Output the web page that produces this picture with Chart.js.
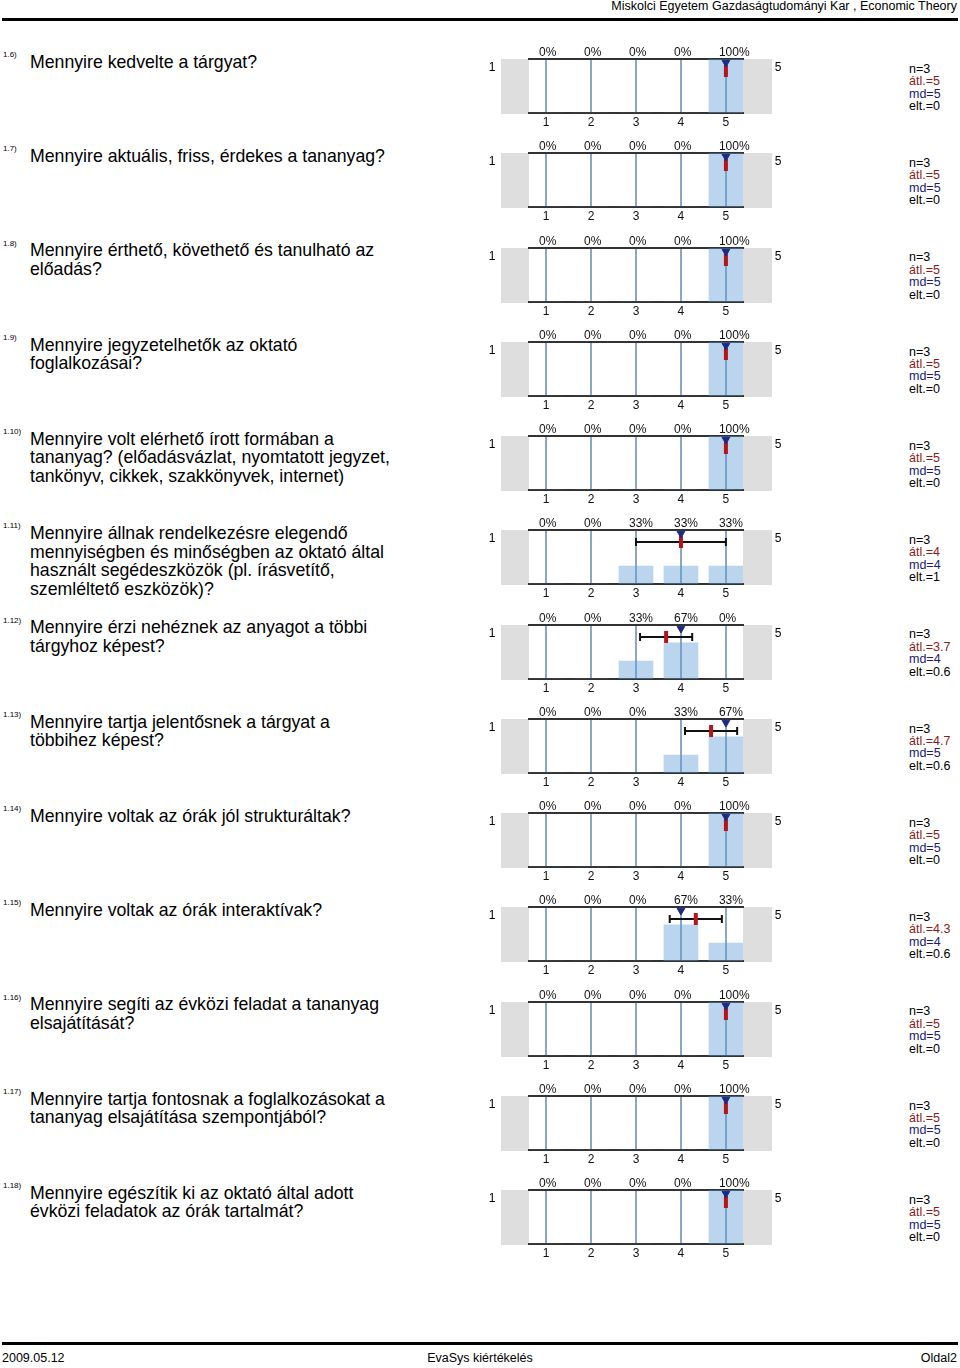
<!DOCTYPE html>
<html>
<head>
<meta charset="utf-8">
<script src="https://cdn.jsdelivr.net/npm/chart.js@4.4.1/dist/chart.umd.min.js"></script>
<style>
body { margin: 0; background: #fff; font-family: "Liberation Sans", Arial, sans-serif; color: #000; }
#page { position: relative; width: 960px; height: 1368px; overflow: hidden; }
.abs { position: absolute; white-space: nowrap; }
.small { font-size: 12.5px; line-height: 14px; }
.rule { position: absolute; left: 2px; width: 956px; height: 3px; background: #000; }
.qid { font-size: 8px; line-height: 9px; }
.q { font-size: 17.7px; line-height: 18.5px; }
.st { font-size: 12.5px; line-height: 12.4px; }
canvas { position: absolute; }
</style>
</head>
<body>
<div id="page"></div>
<script>
// question ids and texts (line breaks as in the report)
const questionIds = ['1.6)', '1.7)', '1.8)', '1.9)', '1.10)', '1.11)', '1.12)', '1.13)', '1.14)', '1.15)', '1.16)', '1.17)', '1.18)'];
const questions = [
    ['Mennyire kedvelte a tárgyat?'],
    ['Mennyire aktuális, friss, érdekes a tananyag?'],
    ['Mennyire érthető, követhető és tanulható az', 'előadás?'],
    ['Mennyire jegyzetelhetők az oktató', 'foglalkozásai?'],
    ['Mennyire volt elérhető írott formában a', 'tananyag? (előadásvázlat, nyomtatott jegyzet,', 'tankönyv, cikkek, szakkönyvek, internet)'],
    ['Mennyire állnak rendelkezésre elegendő', 'mennyiségben és minőségben az oktató által', 'használt segédeszközök (pl. írásvetítő,', 'szemléltető eszközök)?'],
    ['Mennyire érzi nehéznek az anyagot a többi', 'tárgyhoz képest?'],
    ['Mennyire tartja jelentősnek a tárgyat a', 'többihez képest?'],
    ['Mennyire voltak az órák jól strukturáltak?'],
    ['Mennyire voltak az órák interaktívak?'],
    ['Mennyire segíti az évközi feladat a tananyag', 'elsajátítását?'],
    ['Mennyire tartja fontosnak a foglalkozásokat a', 'tananyag elsajátítása szempontjából?'],
    ['Mennyire egészítik ki az oktató által adott', 'évközi feladatok az órák tartalmát?']
];

// answer distribution in percent for scale values 1..5
const pctData = [
    [0, 0, 0, 0, 100],
    [0, 0, 0, 0, 100],
    [0, 0, 0, 0, 100],
    [0, 0, 0, 0, 100],
    [0, 0, 0, 0, 100],
    [0, 0, 33, 33, 33],
    [0, 0, 33, 67, 0],
    [0, 0, 0, 33, 67],
    [0, 0, 0, 0, 100],
    [0, 0, 0, 67, 33],
    [0, 0, 0, 0, 100],
    [0, 0, 0, 0, 100],
    [0, 0, 0, 0, 100]
];
const counts  = [3, 3, 3, 3, 3, 3, 3, 3, 3, 3, 3, 3, 3];
const means   = [5, 5, 5, 5, 5, 4, 3.67, 4.67, 5, 4.33, 5, 5, 5];
const medians = [5, 5, 5, 5, 5, 4, 4, 5, 5, 4, 5, 5, 5];
const stdDevs = [0, 0, 0, 0, 0, 1, 0.58, 0.58, 0, 0.58, 0, 0, 0];
const meanLabels = ['5', '5', '5', '5', '5', '4', '3.7', '4.7', '5', '4.3', '5', '5', '5'];
const sdLabels   = ['0', '0', '0', '0', '0', '1', '0.6', '0.6', '0', '0.6', '0', '0', '0'];

const scaleTicks = [1, 2, 3, 4, 5];
const scaleEnds = ['1', '5'];

const headerText = 'Miskolci Egyetem Gazdaságtudományi Kar , Economic Theory';
const footerLeft = '2009.05.12';
const footerMid = 'EvaSys kiértékelés';
const footerRight = 'Oldal2';

// layout
const ROW_TOP = 51;
const ROW_STEP = 94.25;
const MEDIAN_Y = 93.5;   // marker heights on the 0..100 percent axis
const MEAN_Y = 77.8;

Chart.defaults.font.family = '"Liberation Sans", Arial, sans-serif';
Chart.defaults.font.size = 12;
Chart.defaults.color = '#111';

const page = document.getElementById('page');

function addText(cls, text, left, top, extra) {
    const d = document.createElement('div');
    d.className = 'abs ' + cls;
    d.textContent = text;
    d.style.left = left + 'px';
    d.style.top = top + 'px';
    if (extra) Object.assign(d.style, extra);
    page.appendChild(d);
    return d;
}

// header / footer
addText('small', headerText, 0, -1, { right: '3px', left: 'auto' });
const r1 = document.createElement('div'); r1.className = 'rule'; r1.style.top = '18px'; page.appendChild(r1);
const r2 = document.createElement('div'); r2.className = 'rule'; r2.style.top = '1342px'; page.appendChild(r2);
addText('small', footerLeft, 2, 1351);
addText('small', footerMid, 0, 1351, { width: '960px', textAlign: 'center' });
addText('small', footerRight, 0, 1351, { right: '3px', left: 'auto' });

const sideBands = {
    id: 'sideBands',
    beforeDraw(chart) {
        const { ctx, chartArea: a } = chart;
        ctx.save();
        ctx.fillStyle = '#dedede';
        ctx.fillRect(a.left - 28, a.top, 28, a.bottom - a.top + 1);
        ctx.fillRect(a.right, a.top, 29, a.bottom - a.top + 1);
        ctx.fillStyle = '#000';
        ctx.font = '12px "Liberation Sans", Arial, sans-serif';
        ctx.textAlign = 'center';
        ctx.textBaseline = 'middle';
        ctx.fillText(scaleEnds[0], a.left - 37, a.top + 9);
        ctx.fillText(scaleEnds[1], a.right + 35, a.top + 9);
        ctx.restore();
    }
};

function makeRow(i) {
    const y = ROW_TOP + i * ROW_STEP;

    addText('qid', questionIds[i], 3, y - 1);
    const q = addText('q', '', 30, y + 11 - 9.25);
    q.innerHTML = questions[i].join('<br>');

    const stats = [
        ['n=' + counts[i], '#000'],
        ['átl.=' + meanLabels[i], '#8b1a1a'],
        ['md=' + medians[i], '#1a1a70'],
        ['elt.=' + sdLabels[i], '#000']
    ];
    stats.forEach((s, k) => addText('st', s[0], 909, y + 18 - 6.2 + k * 12.4, { color: s[1] }));

    const cv = document.createElement('canvas');
    cv.width = 320; cv.height = 89;
    cv.style.left = '480px';
    cv.style.top = (y - 9) + 'px';
    page.appendChild(cv);

    const m = means[i], s = stdDevs[i];
    new Chart(cv.getContext('2d'), {
        type: 'bar',
        data: {
            datasets: [
                {
                    type: 'scatter',
                    data: [{ x: medians[i], y: MEDIAN_Y }],
                    pointStyle: 'triangle',
                    rotation: 180,
                    pointRadius: 4.5,
                    pointBackgroundColor: '#1c2a84',
                    pointBorderColor: '#1c2a84',
                    pointBorderWidth: 1,
                    order: 0
                },
                {
                    type: 'scatter',
                    data: [{ x: m, y: MEAN_Y }],
                    pointStyle: 'line',
                    rotation: 90,
                    pointRadius: 6,
                    pointBorderColor: '#b3151b',
                    pointBorderWidth: 4,
                    order: 1
                },
                {
                    type: 'line',
                    data: s > 0 ? [{ x: m - s, y: MEAN_Y }, { x: m + s, y: MEAN_Y }] : [],
                    borderColor: '#111',
                    borderWidth: 2,
                    pointStyle: 'line',
                    rotation: 90,
                    pointRadius: 4,
                    pointBorderColor: '#111',
                    pointBorderWidth: 2,
                    order: 2
                },
                {
                    type: 'bar',
                    data: pctData[i].map((p, k) => ({ x: scaleTicks[k], y: p })),
                    backgroundColor: 'rgba(91,155,213,0.42)',
                    barThickness: 34,
                    borderWidth: 0,
                    order: 3
                }
            ]
        },
        options: {
            responsive: false,
            animation: false,
            events: [],
            layout: { padding: { left: 49, right: 57, top: 0, bottom: 0 } },
            plugins: {
                legend: { display: false },
                tooltip: { enabled: false }
            },
            scales: {
                x: {
                    type: 'linear',
                    position: 'bottom',
                    min: 0.62,
                    max: 5.38,
                    offset: false,
                    afterBuildTicks: (axis) => { axis.ticks = scaleTicks.map(v => ({ value: v })); },
                    afterFit: (axis) => { axis.height = 18; },
                    ticks: { padding: 2, maxRotation: 0, callback: (v) => String(v) },
                    grid: { offset: false, color: '#8aa8c6', lineWidth: 2, drawTicks: false },
                    border: { display: true, color: '#333', width: 2 }
                },
                x2: {
                    type: 'linear',
                    axis: 'x',
                    position: 'top',
                    min: 0.62,
                    max: 5.38,
                    offset: false,
                    afterBuildTicks: (axis) => { axis.ticks = scaleTicks.map(v => ({ value: v })); },
                    afterFit: (axis) => { axis.height = 17; },
                    ticks: { padding: -1, maxRotation: 0, align: 'start', labelOffset: -7, callback: (v) => pctData[i][v - 1] + '%' },
                    grid: { display: false, drawTicks: false },
                    border: { display: true, color: '#333', width: 2 }
                },
                y: { display: false, min: 0, max: 100 }
            }
        },
        plugins: [sideBands]
    });
}

for (let i = 0; i < questions.length; i++) makeRow(i);
</script>
</body>
</html>
